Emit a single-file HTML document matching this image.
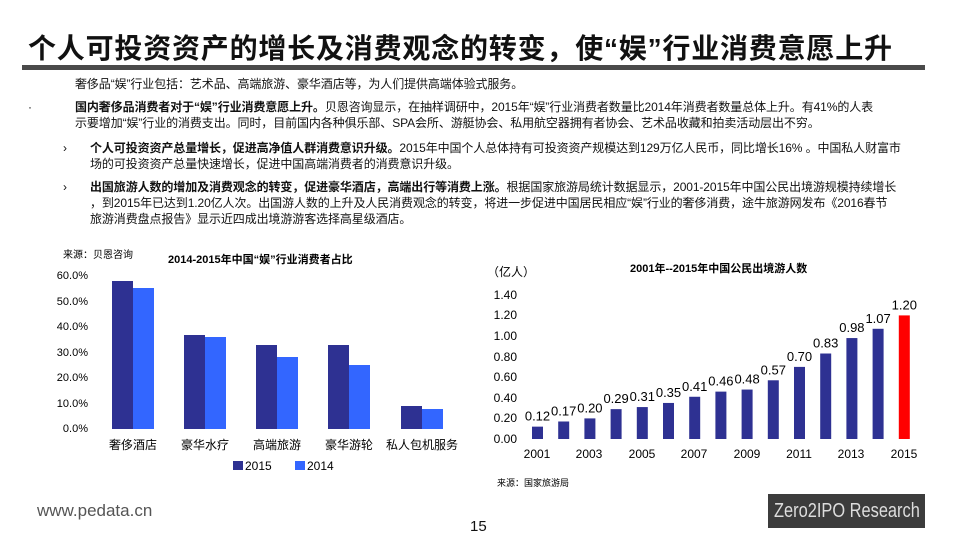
<!DOCTYPE html>
<html><head><meta charset="utf-8"><style>
body{margin:0;width:960px;height:540px;background:#fff;position:relative;overflow:hidden;font-family:"Liberation Sans","Noto Sans CJK SC",sans-serif;color:#111}
.a{position:absolute;white-space:nowrap}
.t{font-size:12px;line-height:16px;letter-spacing:-0.1px}
</style></head><body>
<div class="a" style="left:28px;top:27px;font-size:28px;font-weight:bold;letter-spacing:0.8px">个人可投资资产的增长及消费观念的转变，使“娱”行业消费意愿上升</div>
<div class="a" style="left:22px;top:65px;width:903px;height:5px;background:#4a4a4a"></div>
<div class="a t" style="left:75px;top:76px">奢侈品“娱”行业包括：艺术品、高端旅游、豪华酒店等，为人们提供高端体验式服务。</div>
<div class="a t" style="left:28px;top:99px">·</div>
<div class="a t" style="left:75px;top:99px"><b>国内奢侈品消费者对于“娱”行业消费意愿上升。</b>贝恩咨询显示，在抽样调研中，2015年“娱”行业消费者数量比2014年消费者数量总体上升。有41%的人表<br>示要增加“娱”行业的消费支出。同时，目前国内各种俱乐部、SPA会所、游艇协会、私用航空器拥有者协会、艺术品收藏和拍卖活动层出不穷。</div>
<div class="a t" style="left:63px;top:140px">›</div>
<div class="a t" style="left:90px;top:140px"><b>个人可投资资产总量增长，促进高净值人群消费意识升级。</b>2015年中国个人总体持有可投资资产规模达到129万亿人民币，同比增长16% 。中国私人财富市<br>场的可投资资产总量快速增长，促进中国高端消费者的消费意识升级。</div>
<div class="a t" style="left:63px;top:179px">›</div>
<div class="a t" style="left:90px;top:179px"><b>出国旅游人数的增加及消费观念的转变，促进豪华酒店，高端出行等消费上涨。</b>根据国家旅游局统计数据显示，2001-2015年中国公民出境游规模持续增长<br>，到2015年已达到1.20亿人次。出国游人数的上升及人民消费观念的转变，将进一步促进中国居民相应“娱”行业的奢侈消费，途牛旅游网发布《2016春节<br>旅游消费盘点报告》显示近四成出境游游客选择高星级酒店。</div>

<svg class="a" style="left:0;top:0" width="960" height="540" font-family="Liberation Sans,Noto Sans CJK SC,sans-serif">
<text x="63" y="258" font-size="10">来源：贝恩咨询</text>
<text x="168" y="263" font-size="11" font-weight="bold">2014-2015年中国“娱”行业消费者占比</text>
<g font-size="11" text-anchor="end">
<text x="88" y="432">0.0%</text><text x="88" y="407">10.0%</text><text x="88" y="381">20.0%</text><text x="88" y="356">30.0%</text><text x="88" y="330">40.0%</text><text x="88" y="305">50.0%</text><text x="88" y="279">60.0%</text>
</g>
<g fill="#2e3192">
<rect x="112" y="281" width="21" height="148"/><rect x="184" y="335" width="21" height="94"/><rect x="256" y="345" width="21" height="84"/><rect x="328" y="345" width="21" height="84"/><rect x="401" y="406" width="21" height="23"/>
</g>
<g fill="#3366ff">
<rect x="133" y="288" width="21" height="141"/><rect x="205" y="337" width="21" height="92"/><rect x="277" y="357" width="21" height="72"/><rect x="349" y="365" width="21" height="64"/><rect x="422" y="409" width="21" height="20"/>
</g>
<g font-size="12" text-anchor="middle">
<text x="133" y="449">奢侈酒店</text><text x="205" y="449">豪华水疗</text><text x="277" y="449">高端旅游</text><text x="349" y="449">豪华游轮</text><text x="422" y="449">私人包机服务</text>
</g>
<rect x="233" y="461" width="10" height="9" fill="#2e3192"/><text x="245" y="470" font-size="12">2015</text>
<rect x="295" y="461" width="10" height="9" fill="#3366ff"/><text x="307" y="470" font-size="12">2014</text>

<text x="630" y="272" font-size="11" font-weight="bold">2001年--2015年中国公民出境游人数</text>
<text x="487" y="276" font-size="12">（亿人）</text>
<g font-size="12" text-anchor="end">
<text x="517" y="443">0.00</text><text x="517" y="422">0.20</text><text x="517" y="402">0.40</text><text x="517" y="381">0.60</text><text x="517" y="361">0.80</text><text x="517" y="340">1.00</text><text x="517" y="319">1.20</text><text x="517" y="299">1.40</text>
</g>
<g id="bars" font-size="13" text-anchor="middle"></g>
<g font-size="12" text-anchor="middle">
<text x="537" y="458">2001</text><text x="589" y="458">2003</text><text x="642" y="458">2005</text><text x="694" y="458">2007</text><text x="747" y="458">2009</text><text x="799" y="458">2011</text><text x="851" y="458">2013</text><text x="904" y="458">2015</text>
</g>
<text x="497" y="486" font-size="9">来源：国家旅游局</text>
</svg>
<div class="a" style="left:37px;top:501px;font-size:17px;color:#555">www.pedata.cn</div>
<div class="a" style="left:470px;top:518px;font-size:15px">15</div>
<div class="a" style="left:768px;top:494px;width:157px;height:34px;background:#3c3c3c;color:#ddd;font-size:20px;line-height:34px;overflow:hidden"><span style="display:inline-block;transform:scaleX(0.82);transform-origin:0 50%;margin-left:6px">Zero2IPO Research</span></div>
<script>
var v=[0.12,0.17,0.20,0.29,0.31,0.35,0.41,0.46,0.48,0.57,0.70,0.83,0.98,1.07,1.20],g=document.getElementById('bars'),s='';
for(var i=0;i<15;i++){var x=532+i*26.2,h=v[i]*103,y=439-h;
s+='<rect x="'+x+'" y="'+y+'" width="11" height="'+h+'" fill="'+(i==14?'#ff0000':'#2e3192')+'"/>';
s+='<text x="'+(x+5.5)+'" y="'+(y-6)+'">'+v[i].toFixed(2)+'</text>';}
g.innerHTML=s;
</script>
</body></html>
